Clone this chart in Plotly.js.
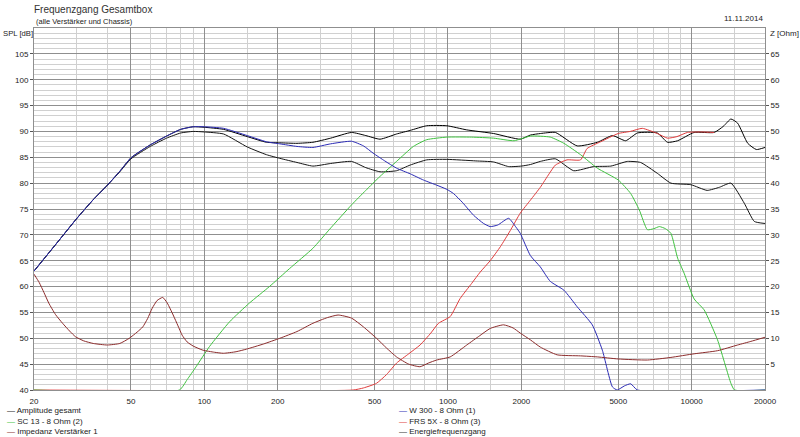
<!DOCTYPE html>
<html>
<head>
<meta charset="utf-8">
<script src="https://cdn.plot.ly/plotly-3.0.1.min.js"></script>
<style>
html,body{margin:0;padding:0;background:#fff;}
#chart{width:800px;height:437px;}
</style>
</head>
<body>
<div id="chart"></div>
<script>
// ---------- data ----------
const freqAmp = [20,25,30,35,40,45,50,60,70,80,90,100,120,150,180,204,240,279,330,402,460,526,615,700,818,989,1194,1538,1980,2178,2400,2760,3390,4100,4730,5360,5990,7230,7960,8760,10240,12370,13500,14490,15440,16990,18430,20000];
const splAmp  = [63,68.6,73.2,76.8,79.6,82.3,84.9,87.4,89.1,90.4,90.9,90.8,90.4,89.0,87.9,87.8,87.7,87.9,88.7,89.8,89.2,88.5,89.5,90.2,91.1,91.1,90.3,89.6,88.5,89.3,89.6,89.8,87.2,87.9,89.2,88.2,89.7,89.7,87.9,88.2,89.8,89.8,91.0,92.4,91.6,87.7,86.5,86.9];

const freqEnergy = [20,25,30,35,40,45,50,60,70,80,90,100,120,150,180,204,240,279,330,402,460,526,615,700,818,989,1300,1538,1774,2000,2178,2393,2760,3280,3960,4660,5450,6170,7230,8220,9920,11580,13000,14490,16450,18080,20000];
const splEnergy  = [63,68.6,73.2,76.8,79.6,82.2,84.7,87.1,88.7,89.7,90.0,89.9,89.5,87.0,85.5,84.8,84.0,83.3,83.8,84.2,83.0,82.2,82.4,83.5,84.5,84.6,84.3,84.1,83.2,83.3,83.6,84.2,84.7,82.4,83.2,83.3,84.2,84.0,81.9,80.0,79.7,78.6,79.2,80.0,76.1,72.6,72.2];

const freqW300 = [20,25,30,35,40,45,50,60,70,80,90,100,120,150,180,204,240,279,330,402,450,493,550,615,700,793,900,989,1053,1150,1273,1400,1490,1600,1774,1900,1980,2178,2393,2630,2990,3390,3910,4300,4730,4950,5300,5620,5990,20000];
const splW300  = [63,68.6,73.2,76.8,79.6,82.3,84.9,87.4,89.1,90.4,90.9,90.9,90.6,89.2,88.0,87.6,87.1,86.9,87.6,88.1,87.2,85.8,84.3,82.9,81.8,80.6,79.6,78.8,78.0,76.2,73.8,72.2,71.6,71.9,73.2,71.5,70.3,66.0,63.8,61.0,59.3,56.1,52.6,47.7,40.6,40,40.8,41.2,40,40];

const freqSC13 = [20,79,85,92.5,105,127,153,185,224,279,327,402,460,526,615,721,818,989,1250,1538,1868,2178,2630,2990,3500,4100,5000,5620,6100,6580,7000,7370,7800,8220,8760,9310,10240,11250,12770,14490,15000,20000];
const splSC13  = [40,40,42.0,44.5,48.4,53.2,56.8,60,63.5,67.4,71.1,75.8,78.6,81.3,84.2,87.1,88.4,88.9,88.9,88.7,88.2,89.1,88.9,87.7,85.5,82.9,80.6,78.0,74.8,71.0,71.2,71.6,71.2,70.3,65.5,62.6,57.6,55.5,49.7,41.3,40,40];

const freqFRS = [20,408,450,509,560,615,690,768,850,914,1021,1122,1250,1356,1490,1640,1800,1980,2178,2393,2600,2760,3080,3500,3725,4230,5000,5600,6270,7230,7960,8700,9610,11000,12370];
const splFRS  = [40,40,40.4,41.3,43.0,45.2,47.0,48.7,51.0,52.9,54.2,57.7,60.6,62.8,65.0,67.7,70.8,74.2,76.7,79.2,81.8,83.5,84.5,84.5,86.7,88.0,89.6,90.0,90.6,89.6,88.7,89.0,89.8,89.9,89.8];

const freqZ = [20,21,22,23,24.5,26.2,28,29.6,32,35,40,45,49.2,53,55.9,58.5,61.1,64,67.5,70.5,74.5,78,81.1,85,90,98.7,110,119.7,135,148.9,175,204,240,279,320,354,402,450,509,560,615,690,768,830,899,1021,1194,1350,1490,1690,1850,1980,2178,2393,2805,3500,4100,5000,6580,8220,10240,12770,15440,17500,20000];
const ohmZ  = [22.4,20.8,18.8,16.8,14.6,12.9,11.4,10.3,9.5,9.0,8.7,9.0,10.0,11.2,12.2,13.8,15.8,17.3,17.9,16.8,14.5,12.4,10.6,9.3,8.5,7.7,7.3,7.1,7.4,7.9,8.9,10.0,11.3,12.9,14.0,14.5,13.9,12.2,10.0,8.1,6.4,5.0,4.5,5.2,5.8,6.4,8.7,10.5,11.9,12.6,12.0,11.0,9.7,8.3,6.8,6.6,6.4,6.0,5.8,6.3,7.0,7.6,8.7,9.4,10.2];

const xMajorTicks = [20,50,100,200,500,1000,2000,5000,10000,20000];
const xMajorText  = ['20','50','100','200','500','1000','2000','5000','10000','20000'];
const xMinorTicks = [30,40,60,70,80,90,150,300,400,600,700,800,900,1500,3000,4000,6000,7000,8000,9000,15000];
const yTicks  = [40,45,50,55,60,65,70,75,80,85,90,95,100,105];
const y2Ticks = [5,10,15,20,25,30,35,40,45,50,55,60,65];

const names = {
  amp: 'Amplitude gesamt',
  sc13: 'SC 13 - 8 Ohm (2)',
  imp: 'Impedanz Verstärker 1',
  w300: 'W 300 - 8 Ohm (1)',
  frs: 'FRS 5X - 8 Ohm (3)',
  energy: 'Energiefrequenzgang'
};
const colors = {
  amp: '#000000',
  sc13: '#3fc23f',
  imp: '#8c2c2c',
  w300: '#2b2bb5',
  frs: '#e03c3c',
  energy: '#151515'
};

// ---------- traces (drawing order) ----------
const ln = (c) => ({color: c, width: 1, shape: 'spline', smoothing: 0.5});
const traces = [
  {x: freqEnergy, y: splEnergy, name: names.energy, mode: 'lines', line: ln(colors.energy)},
  {x: freqAmp, y: splAmp, name: names.amp, mode: 'lines', line: ln(colors.amp)},
  {x: freqZ, y: ohmZ, name: names.imp, mode: 'lines', yaxis: 'y2', line: ln(colors.imp)},
  {x: freqFRS, y: splFRS, name: names.frs, mode: 'lines', line: ln(colors.frs)},
  {x: freqSC13, y: splSC13, name: names.sc13, mode: 'lines', line: ln(colors.sc13)},
  {x: freqW300, y: splW300, name: names.w300, mode: 'lines', line: ln(colors.w300)}
];

// ---------- legend as text (two columns, three rows) ----------
const legendCols = [['amp','sc13','imp'], ['w300','frs','energy']];
const legendX = [-0.0397, 0.4966];
const legendY = [-0.0580, -0.0870, -0.1160];
const fontFam = 'Liberation Sans, Arial, sans-serif';
const txt = '#222';
const annotations = [];
legendCols.forEach((col, ci) => {
  col.forEach((key, ri) => {
    annotations.push({
      xref: 'paper', yref: 'paper', x: legendX[ci], y: legendY[ri],
      xanchor: 'left', yanchor: 'middle', showarrow: false,
      text: '<span style="color:' + colors[key] + '">—</span> ' + names[key],
      font: {family: fontFam, size: 8, color: txt}
    });
  });
});
annotations.push(
  {xref:'paper', yref:'paper', x:0, y:1.0193, xanchor:'left', yanchor:'middle', showarrow:false,
   text:'(alle Verstärker und Chassis)', font:{family:fontFam, size:7.5, color:txt}},
  {xref:'paper', yref:'paper', x:1, y:1.0249, xanchor:'right', yanchor:'middle', showarrow:false,
   text:'11.11.2014', font:{family:fontFam, size:8, color:txt}},
  {xref:'paper', yref:'paper', x:-0.0005, y:0.986, xanchor:'right', yanchor:'middle', showarrow:false,
   borderpad: 0, text:'SPL [dB]', font:{family:fontFam, size:7.7, color:txt}},
  {xref:'paper', yref:'paper', x:1.005, y:0.986, xanchor:'left', yanchor:'middle', showarrow:false,
   borderpad: 0, text:'Z [Ohm]', font:{family:fontFam, size:8, color:txt}}
);

const majorGrid = '#8f8f8f';
const minorGrid = '#d0d0d0';
const tickFont = {family: fontFam, size: 8, color: txt};

const layout = {
  width: 800, height: 437, autosize: false,
  margin: {l: 34, r: 35, t: 28, b: 47, pad: 0},
  paper_bgcolor: '#ffffff', plot_bgcolor: '#ffffff',
  showlegend: false,
  font: {family: fontFam, size: 8, color: txt},
  title: {text: 'Frequenzgang Gesamtbox', x: 34/800, xanchor: 'left', xref: 'container',
          y: 1 - 9/437, yanchor: 'middle', yref: 'container',
          font: {family: fontFam, size: 10, color: '#333'}},
  xaxis: {
    type: 'log', range: [Math.log10(20), Math.log10(20000)],
    tickmode: 'array', tickvals: xMajorTicks, ticktext: xMajorText,
    showgrid: true, gridcolor: majorGrid, gridwidth: 1,
    minor: {tickmode: 'array', tickvals: xMinorTicks, showgrid: true, gridcolor: minorGrid, gridwidth: 1, ticks: ''},
    showline: true, linecolor: majorGrid, linewidth: 1, mirror: true,
    ticks: '', zeroline: false, ticklabelstandoff: 3,
    tickfont: tickFont
  },
  yaxis: {
    range: [40, 110], tickmode: 'array', tickvals: yTicks,
    showgrid: true, gridcolor: majorGrid, gridwidth: 1,
    minor: {dtick: 1, tick0: 40, showgrid: true, gridcolor: minorGrid, gridwidth: 1, ticks: ''},
    showline: true, linecolor: majorGrid, linewidth: 1, mirror: true,
    ticks: 'outside', ticklen: 3, tickcolor: '#555', zeroline: false,
    tickfont: tickFont
  },
  yaxis2: {
    range: [0, 70], overlaying: 'y', side: 'right', anchor: 'x',
    tickmode: 'array', tickvals: y2Ticks, showgrid: false, zeroline: false,
    ticks: 'outside', ticklen: 3, tickcolor: '#555', showline: false,
    tickfont: tickFont
  },
  annotations: annotations
};

Plotly.newPlot('chart', traces, layout, {staticPlot: true, displayModeBar: false});
</script>
</body>
</html>
